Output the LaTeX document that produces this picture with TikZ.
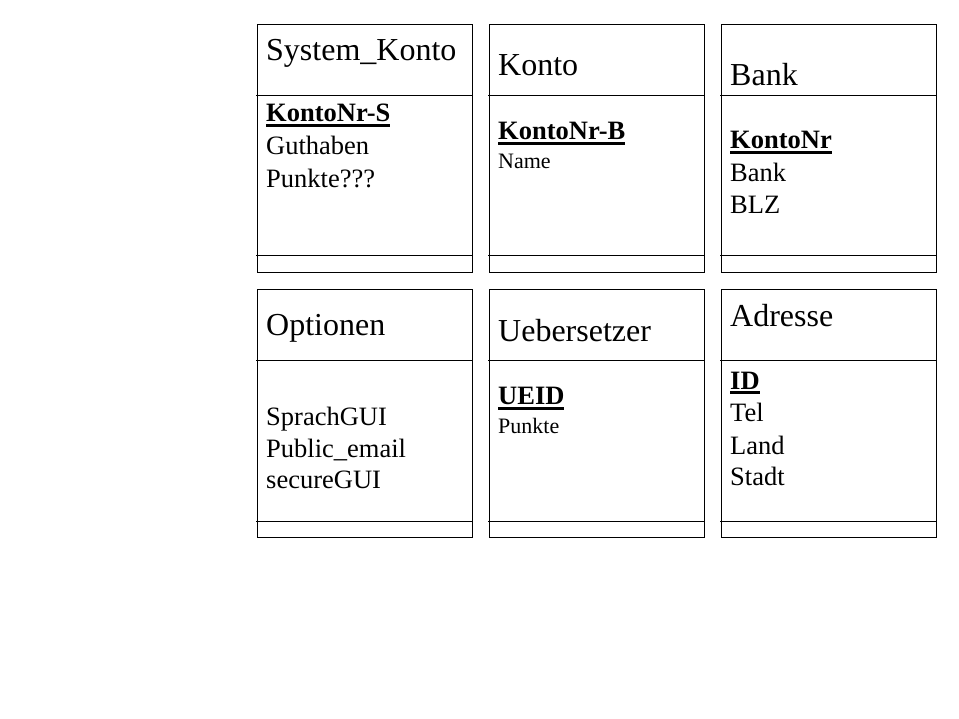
\documentclass[tikz,border=0pt]{standalone}
\usepackage{fontspec}
\setmainfont{Liberation Serif}
\usetikzlibrary{calc}
\newcommand\myul[1]{\setbox0\hbox{#1}\rlap{\rule[-5pt]{\wd0}{2.6pt}}\box0}
\tikzset{
  entity/.style={draw, line width=1pt, minimum width=215pt, minimum height=248pt, anchor=north west, inner sep=0pt},
  divline/.style={line width=1pt},
  ttl/.style={anchor=base west, inner sep=0pt, font=\fontsize{32}{36}\selectfont},
  attr/.style={anchor=base west, inner sep=0pt, font=\fontsize{26.5}{30}\selectfont},
  sattr/.style={anchor=base west, inner sep=0pt, font=\fontsize{22}{24}\selectfont},
  key/.style={anchor=base west, inner sep=0pt, font=\fontsize{26.5}{30}\selectfont\bfseries},
}
\begin{document}
\begin{tikzpicture}[x=1pt,y=-1pt]
\useasboundingbox[fill=white] (0,0) rectangle (959,719);
% boxes
\node[entity] (b1) at (257,24) {};
\node[entity] (b2) at (489,24) {};
\node[entity] (b3) at (721,24) {};
\node[entity] (b4) at (257,289) {};
\node[entity] (b5) at (489,289) {};
\node[entity] (b6) at (721,289) {};
\foreach \b in {b1,b2,b3,b4,b5,b6}{
  \draw[divline] ($(\b.north west)+(-1,72)$) -- ($(\b.north east)+(0,72)$);
  \draw[divline] ($(\b.north west)+(-1,232)$) -- ($(\b.north east)+(0,232)$);
}
% System_Konto
\node[ttl] (t1) at (266,61) {System\_Konto};
\node[key] (k1) at (266,122) {\myul{KontoNr-S}};
\node[attr] (a11) at (266,155) {Guthaben};
\node[attr] (a12) at (266,188) {Punkte???};
% Konto
\node[ttl] (t2) at (498,76) {Konto};
\node[key] (k2) at (498,140) {\myul{KontoNr-B}};
\node[sattr] (a21) at (498,169) {Name};
% Bank
\node[ttl] (t3) at (730,86) {Bank};
\node[key] (k3) at (730,149) {\myul{KontoNr}};
\node[attr] (a31) at (730,182) {Bank};
\node[attr] (a32) at (730,214) {BLZ};
% Optionen
\node[ttl] (t4) at (266,336) {Optionen};
\node[attr] (a41) at (266,425) {SprachGUI};
\node[attr] (a42) at (266,457) {Public\_email};
\node[attr] (a43) at (266,488) {secureGUI};
% Uebersetzer
\node[ttl] (t5) at (498,342) {Uebersetzer};
\node[key] (k5) at (498,405) {\myul{UEID}};
\node[sattr] (a51) at (498,433) {Punkte};
% Adresse
\node[ttl] (t6) at (730,327) {Adresse};
\node[key] (k6) at (730,389) {\myul{ID}};
\node[attr] (a61) at (730,421) {Tel};
\node[attr] (a62) at (730,454) {Land};
\node[attr] (a63) at (730,485) {Stadt};
\end{tikzpicture}
\end{document}
